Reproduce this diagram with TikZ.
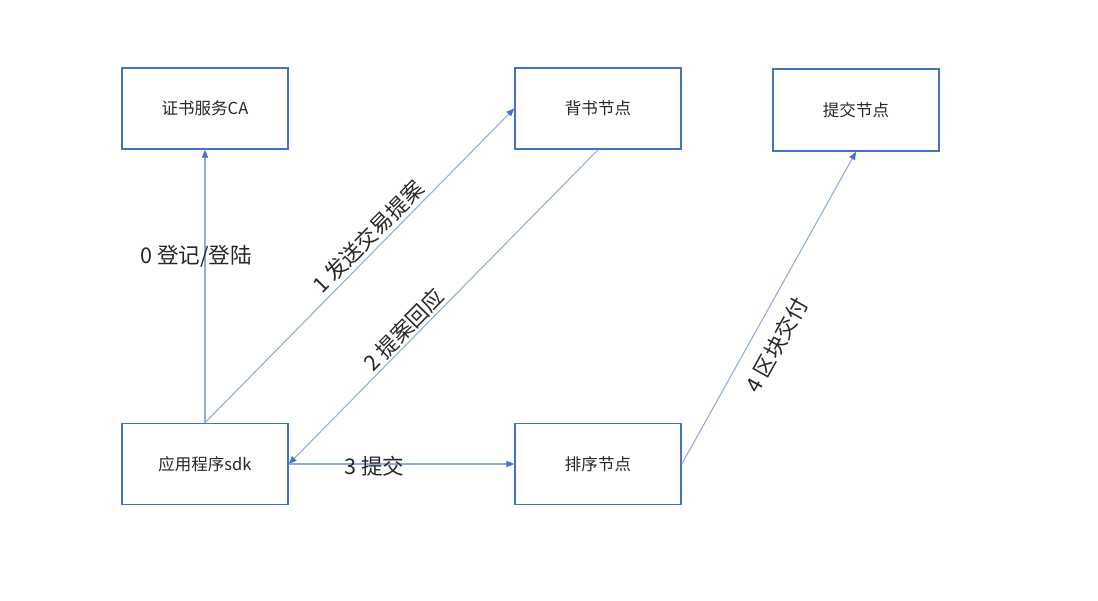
\documentclass[tikz,border=0pt]{standalone}
\usepackage{fontspec}
\setmainfont{Noto Sans CJK SC}
\usepackage{tikz}
\definecolor{boxblue}{RGB}{68, 114, 196}
\definecolor{linkblue}{RGB}{143, 170, 220}
\definecolor{labeltext}{RGB}{38, 38, 38}
\usetikzlibrary{arrows.meta, positioning}

\begin{document}
\begin{tikzpicture}[x=0.02cm, y=-0.02cm,
    procbox/.style={draw=boxblue, line width=0.9pt, minimum width=3.32cm,
          minimum height=1.62cm, inner sep=0pt, text=labeltext,
          font=\fontsize{9.4}{11}\selectfont},
    flow/.style={draw=linkblue, line width=0.6pt,
          -{Triangle[length=4.5pt, width=3.6pt, color=boxblue]}},
    steplabel/.style={text=labeltext, font=\fontsize{12.3}{14}\selectfont}]
    \useasboundingbox (0,0) rectangle (1098,601);

    % nodes
    \node[procbox] (ca)      at (205,108.5) {证书服务CA};
    \node[procbox] (endorse) at (598,108.5) {背书节点};
    \node[procbox, minimum height=1.64cm] (commit) at (856,110) {提交节点};
    \node[procbox] (sdk)     at (205,464)   {应用程序sdk};
    \node[procbox] (order)   at (598,464)   {排序节点};

    % flows
    \draw[flow] (sdk.north) -- node[steplabel, pos=0.61, xshift=-5pt] {0 登记/登陆} (ca.south);
    \draw[flow] (sdk.north) -- node[steplabel, pos=0.56, sloped, above, inner sep=2pt] {1 发送交易提案} (endorse.west);
    \draw[flow] (endorse.south) -- node[steplabel, pos=0.6, sloped, above, inner sep=1pt] {2 提案回应} (sdk.east);
    \draw[flow] (sdk.east) -- node[steplabel, pos=0.38, yshift=-1pt] {3 提交} (order.west);
    \draw[flow] (order.east) -- node[steplabel, pos=0.42, sloped, below, inner sep=8pt] {4 区块交付} (commit.south);
\end{tikzpicture}
\end{document}
